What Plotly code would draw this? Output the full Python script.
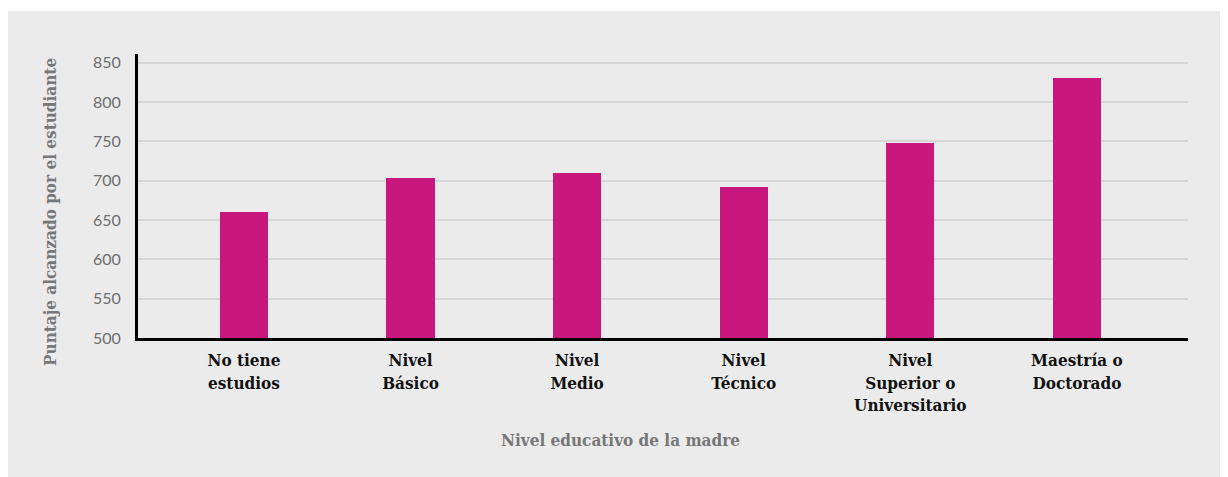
import plotly.graph_objects as go

categories = ["No tiene<br>estudios", "Nivel<br>Básico", "Nivel<br>Medio", "Nivel<br>Técnico",
              "Nivel<br>Superior o<br>Universitario", "Maestría o<br>Doctorado"]
scores = [660, 703, 710, 692, 748, 830]
y_ticks = [500, 550, 600, 650, 700, 750, 800, 850]
x_title = "Nivel educativo de la madre"
y_title = "Puntaje alcanzado por el estudiante"

SERIF = "DejaVu Serif Condensed, DejaVu Serif, serif"

fig = go.Figure()
fig.add_trace(go.Bar(
    x=list(range(len(categories))), y=scores,
    marker=dict(color="#c8187e", line=dict(width=0)),
    width=0.29,
))

# page body has an 8px margin; figure coords = page coords - 8
W, H = 1220, 469
L, R, T, B = 130, 40, 46, 139
pw, ph = W - L - R, H - T - B

def px(x):
    return (x - L) / pw

def py(y):
    return (H - B - y) / ph

fig.add_shape(type="rect", xref="paper", yref="paper",
              x0=px(0), x1=px(1213), y0=py(469), y1=py(3),
              fillcolor="#ebebeb", line=dict(width=0), layer="below")

title_font = dict(family=SERIF, size=17, color="#777777", weight="bold")
fig.add_annotation(text=y_title, xref="paper", yref="paper",
                   x=px(42), y=py(204), textangle=-90, showarrow=False,
                   xanchor="center", yanchor="middle", font=title_font)
fig.add_annotation(text=x_title, xref="paper", yref="paper",
                   x=px(612), y=py(432), showarrow=False,
                   xanchor="center", yanchor="middle", font=title_font)

fig.update_layout(
    width=W, height=H,
    margin=dict(l=L, r=R, t=T, b=B),
    paper_bgcolor="white", plot_bgcolor="rgba(0,0,0,0)",
    showlegend=False,
    bargap=0,
    xaxis=dict(
        range=[-0.636, 5.667],
        tickmode="array", tickvals=list(range(len(categories))), ticktext=categories,
        tickfont=dict(family=SERIF, size=17, color="#111111", weight="bold"),
        showline=True, linecolor="black", linewidth=3,
        showgrid=False, zeroline=False, ticks="", ticklabelstandoff=5,
    ),
    yaxis=dict(
        range=[500, 861],
        tickmode="array", tickvals=y_ticks,
        tickfont=dict(family="Lato, sans-serif", size=16, color="#6e6e6e"),
        showline=True, linecolor="black", linewidth=3,
        showgrid=True, gridcolor="#d6d6d6", gridwidth=1.5,
        zeroline=False, ticks="", ticklabelstandoff=11,
    ),
)

fig.write_html("out.html")
